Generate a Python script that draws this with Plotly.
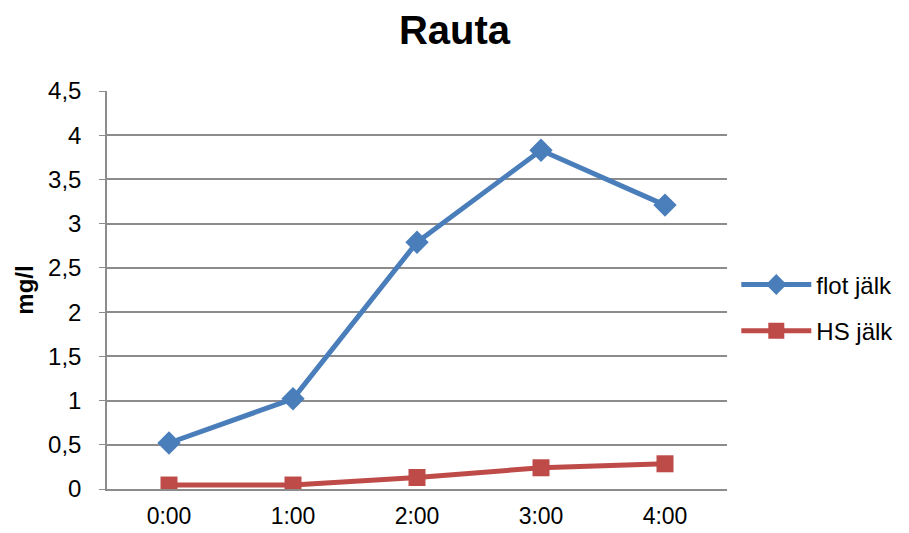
import plotly.graph_objects as go

# Iron concentration (mg/l) over time
times = ["0:00", "1:00", "2:00", "3:00", "4:00"]
flot_jalk = [0.52, 1.02, 2.79, 3.83, 3.21]
hs_jalk = [0.045, 0.045, 0.13, 0.24, 0.285]

BLUE = "#4A7EBB"
RED = "#BE4B48"
GRID = "#8C8C8C"
FONT = "Liberation Sans"

fig = go.Figure()
fig.add_trace(go.Scatter(
    x=times, y=flot_jalk, name="flot jälk", mode="lines+markers",
    legendgroup="a",
    line=dict(color=BLUE, width=5),
    marker=dict(symbol="diamond", size=18, color=BLUE),
))
fig.add_trace(go.Scatter(
    x=times, y=hs_jalk, name="HS jälk", mode="lines+markers",
    legendgroup="b",
    line=dict(color=RED, width=5),
    marker=dict(symbol="square", size=17, color=RED),
))

fig.update_layout(
    width=909, height=533,
    margin=dict(l=107, r=182, t=91, b=44, autoexpand=False),
    paper_bgcolor="white", plot_bgcolor="white",
    separators=",.",
    font=dict(family=FONT, size=24, color="black"),
    title=dict(text="<b>Rauta</b>", x=0.5, xref="container", xanchor="center",
               y=1 - 30 / 533, yanchor="middle",
               font=dict(family=FONT, size=40, color="black")),
    showlegend=True,
    legend=dict(x=1.015, y=0.455, xanchor="left", yanchor="middle",
                font=dict(family=FONT, size=24), tracegroupgap=12,
                itemwidth=70),
    xaxis=dict(type="category", range=[-0.5, 4.5], showgrid=False,
               showline=True, linecolor=GRID, linewidth=1.5,
               ticks="", tickfont=dict(size=23), ticklabelstandoff=6,
               automargin=False),
    yaxis=dict(range=[0, 4.5], dtick=0.5, showgrid=True, gridcolor=GRID,
               gridwidth=1.5, showline=True, linecolor=GRID, linewidth=1.5,
               ticks="outside", ticklen=6, tickcolor=GRID, zeroline=False,
               tickfont=dict(size=24), tickformat=",.1~f",
               ticklabelstandoff=13, automargin=False,
               title=dict(text="<b>mg/l</b>", font=dict(size=24), standoff=8)),
)

fig.write_html("out.html")
